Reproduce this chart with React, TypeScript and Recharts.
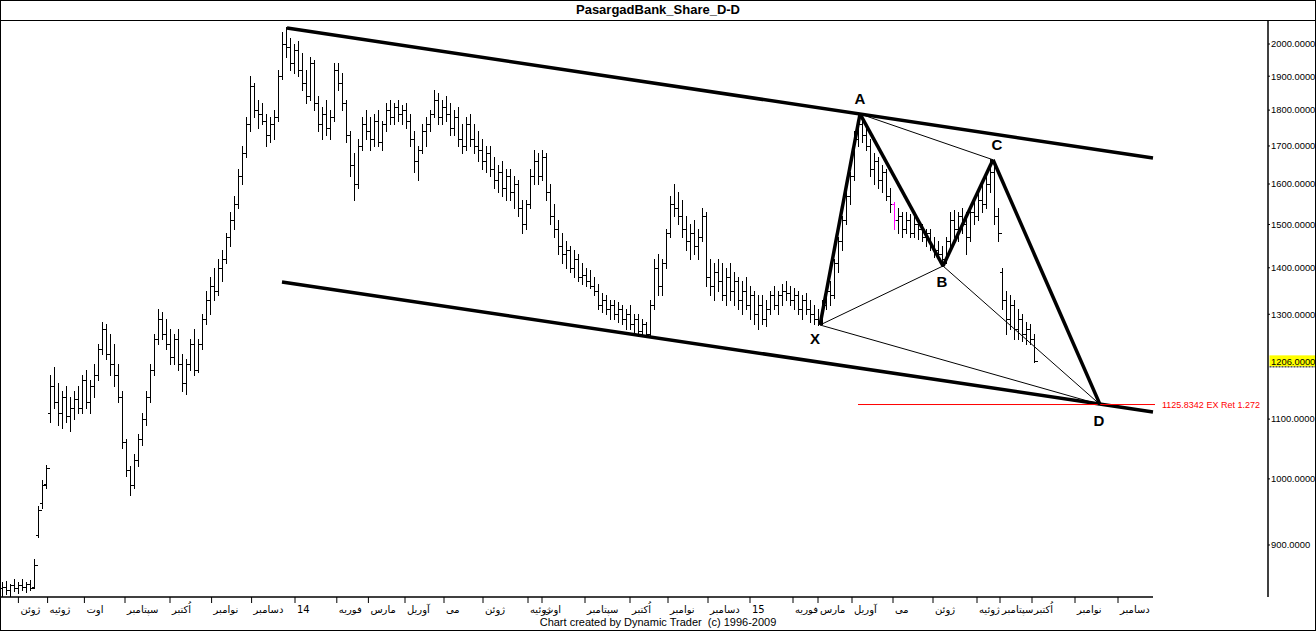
import React from "react";
import { ComposedChart, Bar, XAxis, YAxis, ReferenceLine, ReferenceDot } from "recharts";

// [open, high, low, close] per trading bar
type Ohlc = [number, number, number, number];

const barsJun2013: Ohlc[] = [
  [840, 848, 828, 842], [842, 850, 832, 838], [838, 846, 830, 844], [844, 852, 836, 840],
  [840, 848, 834, 845], [845, 852, 838, 842], [842, 848, 835, 846], [846, 851, 838, 840],
  [842, 880, 840, 872], [915, 958, 912, 952], [962, 998, 955, 990], [992, 1022, 985, 1018],
];

const barsJulOct2013: Ohlc[] = [
  [1110, 1180, 1095, 1160], [1160, 1195, 1120, 1130], [1130, 1165, 1090, 1110], [1110, 1150, 1085, 1140],
  [1140, 1160, 1095, 1105], [1105, 1140, 1080, 1120], [1120, 1150, 1100, 1135], [1135, 1160, 1110, 1120],
  [1120, 1180, 1110, 1170], [1170, 1190, 1120, 1130], [1130, 1170, 1110, 1160], [1160, 1200, 1140, 1180],
  [1180, 1240, 1170, 1230], [1230, 1285, 1220, 1270], [1270, 1280, 1210, 1220], [1220, 1260, 1180, 1200],
  [1200, 1240, 1160, 1180], [1180, 1200, 1130, 1140], [1140, 1150, 1050, 1060], [1060, 1065, 1005, 1015],
  [1015, 1020, 975, 990], [990, 1040, 985, 1030], [1030, 1075, 1020, 1065], [1065, 1110, 1055, 1100],
  [1100, 1150, 1090, 1140], [1140, 1200, 1130, 1190], [1190, 1260, 1180, 1250], [1250, 1310, 1240, 1290],
  [1290, 1305, 1250, 1260], [1260, 1290, 1230, 1240], [1240, 1270, 1200, 1215], [1215, 1260, 1200, 1250],
  [1250, 1270, 1190, 1200], [1200, 1220, 1150, 1165], [1165, 1210, 1145, 1200], [1200, 1250, 1190, 1240],
  [1240, 1270, 1180, 1190], [1190, 1250, 1185, 1240],
];

const barsNov2013Feb2014: Ohlc[] = [
  [1240, 1300, 1230, 1290], [1290, 1350, 1280, 1330], [1330, 1380, 1300, 1360], [1360, 1400, 1330, 1350],
  [1350, 1420, 1340, 1400], [1400, 1440, 1370, 1420], [1420, 1480, 1410, 1470], [1470, 1530, 1450, 1510],
  [1510, 1570, 1490, 1550], [1550, 1640, 1540, 1620], [1620, 1700, 1600, 1680], [1680, 1780, 1670, 1760],
  [1760, 1900, 1740, 1870], [1870, 1880, 1780, 1800], [1800, 1830, 1750, 1790], [1790, 1820, 1760, 1770],
  [1770, 1790, 1700, 1730], [1730, 1780, 1710, 1760], [1760, 1800, 1720, 1780], [1780, 1920, 1770, 1900],
  [1900, 2040, 1890, 2000], [2000, 2055, 1960, 1990], [1990, 2020, 1920, 1940], [1940, 2000, 1910, 1980],
  [1980, 2010, 1900, 1920], [1920, 1970, 1860, 1880], [1880, 1920, 1820, 1840], [1840, 1960, 1830, 1940],
  [1940, 1950, 1800, 1820], [1820, 1840, 1740, 1760], [1760, 1810, 1720, 1790], [1790, 1830, 1730, 1750],
  [1750, 1800, 1720, 1780], [1780, 1940, 1770, 1920], [1920, 1940, 1860, 1880], [1880, 1910, 1800, 1820],
  [1820, 1830, 1710, 1730], [1730, 1740, 1620, 1650], [1650, 1680, 1560, 1600], [1600, 1720, 1590, 1700],
];

const barsMar2014Jun2014: Ohlc[] = [
  [1700, 1780, 1690, 1760], [1760, 1800, 1720, 1740], [1740, 1780, 1690, 1720], [1720, 1790, 1700, 1770],
  [1770, 1800, 1700, 1710], [1710, 1770, 1690, 1760], [1760, 1820, 1740, 1800], [1800, 1830, 1760, 1780],
  [1780, 1820, 1760, 1810], [1810, 1830, 1770, 1790], [1790, 1815, 1760, 1800], [1800, 1820, 1750, 1770],
  [1770, 1790, 1700, 1720], [1720, 1740, 1630, 1660], [1660, 1700, 1610, 1690], [1690, 1760, 1680, 1740],
  [1740, 1780, 1700, 1760], [1760, 1800, 1740, 1790], [1790, 1860, 1780, 1830], [1830, 1850, 1760, 1780],
  [1780, 1830, 1760, 1810], [1810, 1840, 1770, 1790], [1790, 1820, 1730, 1750], [1750, 1800, 1730, 1780],
  [1780, 1810, 1700, 1720], [1720, 1760, 1680, 1700], [1700, 1780, 1690, 1760], [1760, 1790, 1700, 1720],
  [1720, 1760, 1680, 1700], [1700, 1740, 1660, 1690], [1690, 1720, 1640, 1660], [1660, 1700, 1630, 1680],
  [1680, 1700, 1620, 1640], [1640, 1670, 1590, 1610], [1610, 1650, 1580, 1630], [1630, 1660, 1570, 1590],
  [1590, 1640, 1560, 1620], [1620, 1640, 1560, 1580], [1580, 1620, 1540, 1600], [1600, 1610, 1520, 1540],
  [1540, 1560, 1480, 1500], [1500, 1560, 1490, 1550],
];

const barsJul2014Dec2014: Ohlc[] = [
  [1550, 1640, 1540, 1620], [1620, 1690, 1600, 1660], [1660, 1680, 1600, 1620], [1620, 1690, 1610, 1670],
  [1670, 1680, 1560, 1580], [1580, 1600, 1500, 1520], [1520, 1550, 1470, 1490], [1490, 1510, 1430, 1450],
  [1450, 1480, 1410, 1430], [1430, 1460, 1400, 1440], [1440, 1450, 1390, 1400], [1400, 1440, 1380, 1420],
  [1420, 1430, 1370, 1380], [1380, 1410, 1365, 1385], [1385, 1400, 1360, 1370], [1370, 1395, 1355, 1360],
  [1360, 1380, 1340, 1350], [1350, 1365, 1310, 1320], [1320, 1345, 1305, 1330], [1330, 1340, 1300, 1310],
  [1310, 1330, 1290, 1320], [1320, 1330, 1290, 1300], [1300, 1325, 1285, 1310], [1310, 1320, 1280, 1290],
  [1290, 1310, 1270, 1300], [1300, 1320, 1270, 1280], [1280, 1300, 1260, 1290], [1290, 1300, 1255, 1265],
  [1265, 1290, 1260, 1280], [1280, 1285, 1255, 1260], [1260, 1330, 1255, 1320], [1320, 1420, 1310, 1400],
  [1400, 1430, 1340, 1360], [1360, 1420, 1340, 1410], [1410, 1490, 1400, 1480], [1480, 1570, 1470, 1550],
  [1550, 1600, 1520, 1540], [1540, 1580, 1500, 1520], [1520, 1560, 1470, 1490], [1490, 1520, 1440, 1460],
  [1460, 1500, 1420, 1480], [1480, 1510, 1430, 1450], [1450, 1490, 1420, 1470], [1470, 1540, 1460, 1520],
];

const barsJan2015Mar2015: Ohlc[] = [
  [1520, 1530, 1360, 1380], [1380, 1420, 1340, 1360], [1360, 1410, 1330, 1390], [1390, 1420, 1350, 1370],
  [1370, 1410, 1330, 1340], [1340, 1400, 1320, 1380], [1380, 1410, 1330, 1350], [1350, 1390, 1320, 1370],
  [1370, 1380, 1310, 1330], [1330, 1370, 1300, 1350], [1350, 1380, 1310, 1320], [1320, 1360, 1290, 1340],
  [1340, 1350, 1280, 1300], [1300, 1340, 1270, 1320], [1320, 1340, 1280, 1290], [1290, 1330, 1275, 1310],
  [1310, 1350, 1300, 1340], [1340, 1360, 1310, 1320], [1320, 1350, 1300, 1340], [1340, 1365, 1320, 1350],
  [1350, 1370, 1330, 1345], [1345, 1360, 1320, 1330], [1330, 1355, 1310, 1340], [1340, 1350, 1300, 1310],
  [1310, 1340, 1290, 1330], [1330, 1345, 1300, 1310], [1310, 1330, 1285, 1300], [1300, 1320, 1280, 1290],
  [1290, 1310, 1278, 1285],
];

const barsApr2015Oct2015: Ohlc[] = [
  [1285, 1330, 1280, 1320], [1320, 1360, 1310, 1350], [1350, 1370, 1320, 1340], [1340, 1420, 1335, 1410],
  [1410, 1470, 1390, 1460], [1460, 1520, 1440, 1510], [1510, 1580, 1500, 1570], [1570, 1630, 1550, 1620],
  [1620, 1740, 1610, 1720], [1720, 1790, 1700, 1760], [1760, 1775, 1710, 1730], [1730, 1760, 1690, 1700],
  [1700, 1720, 1620, 1640], [1640, 1680, 1600, 1660], [1660, 1670, 1590, 1610], [1610, 1650, 1580, 1630],
  [1630, 1640, 1560, 1570], [1570, 1590, 1530, 1550], [1550, 1555, 1490, 1510], [1510, 1540, 1480, 1520],
  [1520, 1530, 1470, 1490], [1490, 1530, 1480, 1510], [1510, 1525, 1470, 1480], [1480, 1520, 1470, 1500],
  [1500, 1510, 1465, 1490], [1490, 1500, 1460, 1470], [1470, 1490, 1450, 1480], [1480, 1490, 1440, 1450],
  [1450, 1470, 1425, 1440], [1440, 1460, 1420, 1430], [1430, 1450, 1405, 1420], [1420, 1470, 1410, 1460],
  [1460, 1530, 1450, 1510], [1510, 1535, 1470, 1490], [1490, 1530, 1460, 1520], [1520, 1540, 1480, 1500],
  [1500, 1530, 1430, 1470], [1470, 1540, 1460, 1530], [1530, 1560, 1500, 1520], [1520, 1580, 1510, 1560],
  [1560, 1600, 1530, 1550], [1550, 1620, 1540, 1600], [1600, 1665, 1580, 1630], [1630, 1650, 1500, 1520],
  [1520, 1540, 1460, 1480], [1390, 1400, 1310, 1330], [1330, 1350, 1260, 1290], [1290, 1340, 1270, 1320],
  [1320, 1330, 1250, 1270], [1270, 1310, 1250, 1290], [1290, 1300, 1245, 1260], [1260, 1285, 1240, 1270],
  [1270, 1280, 1240, 1250], [1250, 1260, 1205, 1206],
];

const PINK_BAR = 223;

// month ticks (bar index) and their labels
const MONTH_TICKS = [
  4.1, 11.4, 20.6, 30.75, 42, 52.4, 62.4, 73.25, 83.7, 91.6, 100.75, 110.5,
  120.25, 131.5, 135, 145.75, 157, 166.5, 176.5, 187, 197.75, 204, 212.5,
  222.75, 232.75, 243.75, 249.5, 257.5, 268.25, 279,
];
const MONTH_LABELS = [
  "ژوئن", "ژوئیه", "اوت", "سپتامبر", "اُکتبر", "نوامبر", "دسامبر", "14", "فوریه", "مارس", "آوریل", "می",
  "ژوئن", "ژوئیه", "اوت", "سپتامبر", "اُکتبر", "نوامبر", "دسامبر", "15", "فوریه", "مارس", "آوریل",
  "می", "ژوئن", "ژوئیه", "سپتامبر", "اُکتبر", "نوامبر", "دسامبر",
];

// 1200 is covered by the last-price marker, as in the original
const PRICE_TICKS = [900, 1000, 1100, 1300, 1400, 1500, 1600, 1700, 1800, 1900, 2000];
const PRICE_DOMAIN = [828.4, 2074.7];
const X_DOMAIN = [-0.5, 316.5];

// trend channel
const UPPER_CHANNEL = [{ x: 71.25, y: 2051.6 }, { x: 287.75, y: 1667.7 }];
const LOWER_CHANNEL = [{ x: 70, y: 1368.6 }, { x: 287.75, y: 1112.6 }];

// harmonic pattern points
const PATTERN_NAMES = ["X", "A", "B", "C", "D"];
const PATTERN_IDX = [204.5, 214.5, 235.25, 247.75, 274.5];
const PATTERN_PRICE = [1278, 1789, 1404, 1663, 1125.83];

const EX_RET_PRICE = 1125.8342;
const EX_RET_RANGE = [214, 288.25];
const LAST_PRICE = 1206;

const allBars = [
  ...barsJun2013,
  ...barsJulOct2013,
  ...barsNov2013Feb2014,
  ...barsMar2014Jun2014,
  ...barsJul2014Dec2014,
  ...barsJan2015Mar2015,
  ...barsApr2015Oct2015,
];
const data = allBars.map(([open, high, low, close], i) => ({ i, open, high, low, close, range: [low, high] }));

const pt = (k: number) => ({ x: PATTERN_IDX[k], y: PATTERN_PRICE[k] });

const OhlcBar = (props: any) => {
  const { x, y, width, height, payload } = props;
  if (x == null || y == null || !payload) return null;
  const cx = Math.round(x + width / 2) + 0.5;
  const top = Math.min(y, y + height);
  const bot = Math.max(y, y + height);
  const lh = Math.log(payload.high);
  const span = lh - Math.log(payload.low) || 1;
  const at = (v: number) => Math.round(top + ((bot - top) * (lh - Math.log(v))) / span) + 0.5;
  const color = payload.i === PINK_BAR ? "#ff00ff" : "#000";
  return (
    <g stroke={color} shapeRendering="crispEdges">
      <line x1={cx} x2={cx} y1={Math.round(top)} y2={Math.round(bot) + 1} strokeWidth={1.3} />
      <line x1={cx - 3} x2={cx} y1={at(payload.open)} y2={at(payload.open)} strokeWidth={1} />
      <line x1={cx} x2={cx + 3} y1={at(payload.close)} y2={at(payload.close)} strokeWidth={1} />
    </g>
  );
};

const MonthTick = (props: any) => {
  const { x, y, payload } = props;
  const k = MONTH_TICKS.indexOf(payload.value);
  return (
    <text x={x + 2} y={y} dy="0.75em" textAnchor="start" fontSize={10} fontFamily="DejaVu Sans" fill="#000">
      {MONTH_LABELS[k]}
    </text>
  );
};

const letter = (name: string, dx: number, dy: number) => (p: any) => (
  <text
    x={p.cx + dx}
    y={p.cy + dy}
    textAnchor="middle"
    dominantBaseline="central"
    fontSize={15}
    fontWeight="bold"
    fontFamily="Liberation Sans"
    fill="#000"
  >
    {name}
  </text>
);

const LETTER_OFFSETS: [number, number][] = [[-5, 14], [0, -15], [-1, 16], [4, -15], [-1, 16]];

export default function App() {
  return (
    <div style={{ position: "absolute", left: 0, top: 0, width: 1316, height: 631, background: "#fff", overflow: "hidden" }}>
      <ComposedChart width={1316} height={631} data={data} margin={{ top: 21, right: 0, bottom: 0, left: 0 }}>
        <XAxis
          dataKey="i"
          type="number"
          domain={X_DOMAIN}
          allowDataOverflow
          ticks={MONTH_TICKS}
          interval={0}
          height={34}
          axisLine={false}
          tickLine={{ stroke: "#000" }}
          tickSize={6}
          tick={<MonthTick />}
        />
        <YAxis
          orientation="right"
          scale="log"
          domain={PRICE_DOMAIN}
          allowDataOverflow
          ticks={PRICE_TICKS}
          interval={0}
          tickFormatter={(v: number) => v.toFixed(4)}
          width={48}
          axisLine={{ stroke: "#000", strokeWidth: 1.5 }}
          tickLine={{ stroke: "#000" }}
          tickSize={2}
          tickMargin={1}
          tick={{ fontSize: 9.4, fill: "#000", fontFamily: "Liberation Sans", textAnchor: "start" }}
        />
        <Bar dataKey="range" barSize={4} shape={<OhlcBar />} isAnimationActive={false} />

        {/* bottom axis line ends where the projection ends */}
        <ReferenceLine segment={[{ x: X_DOMAIN[0], y: PRICE_DOMAIN[0] }, { x: 287.75, y: PRICE_DOMAIN[0] }]} stroke="#000" strokeWidth={1.5} ifOverflow="visible" />

        <ReferenceLine segment={UPPER_CHANNEL} stroke="#000" strokeWidth={3.5} ifOverflow="visible" />
        <ReferenceLine segment={LOWER_CHANNEL} stroke="#000" strokeWidth={3.5} ifOverflow="visible" />

        <ReferenceLine
          segment={[{ x: EX_RET_RANGE[0], y: EX_RET_PRICE }, { x: EX_RET_RANGE[1], y: EX_RET_PRICE }]}
          stroke="#ff0000"
          strokeWidth={1}
          ifOverflow="visible"
        />

        {/* thin legs */}
        <ReferenceLine segment={[pt(0), pt(2)]} stroke="#000" strokeWidth={1} ifOverflow="visible" />
        <ReferenceLine segment={[pt(1), pt(3)]} stroke="#000" strokeWidth={1} ifOverflow="visible" />
        <ReferenceLine segment={[pt(0), pt(4)]} stroke="#000" strokeWidth={1} ifOverflow="visible" />
        <ReferenceLine segment={[pt(2), pt(4)]} stroke="#000" strokeWidth={1} ifOverflow="visible" />
        {/* thick legs */}
        <ReferenceLine segment={[pt(0), pt(1)]} stroke="#000" strokeWidth={3.5} ifOverflow="visible" />
        <ReferenceLine segment={[pt(1), pt(2)]} stroke="#000" strokeWidth={3.5} ifOverflow="visible" />
        <ReferenceLine segment={[pt(2), pt(3)]} stroke="#000" strokeWidth={3.5} ifOverflow="visible" />
        <ReferenceLine segment={[pt(3), pt(4)]} stroke="#000" strokeWidth={3.5} ifOverflow="visible" />

        {PATTERN_NAMES.map((name, k) => (
          <ReferenceDot
            key={name}
            x={PATTERN_IDX[k]}
            y={PATTERN_PRICE[k]}
            r={0}
            ifOverflow="visible"
            shape={letter(name, LETTER_OFFSETS[k][0], LETTER_OFFSETS[k][1])}
          />
        ))}

        <ReferenceDot
          x={EX_RET_RANGE[1]}
          y={EX_RET_PRICE}
          r={0}
          ifOverflow="visible"
          shape={(p: any) => (
            <text x={p.cx + 7} y={p.cy} dominantBaseline="central" fontSize={9} fontFamily="Liberation Sans" fill="#ff0000">
              {`${EX_RET_PRICE.toFixed(4)} EX Ret 1.272`}
            </text>
          )}
        />

        <ReferenceDot
          x={X_DOMAIN[1]}
          y={LAST_PRICE}
          r={0}
          ifOverflow="visible"
          shape={(p: any) => (
            <g>
              <rect x={p.cx + 1.5} y={p.cy - 6} width={47} height={11} fill="#ffff00" />
              <line x1={p.cx + 1.5} x2={p.cx + 48} y1={p.cy + 5.5} y2={p.cy + 5.5} stroke="#000" strokeDasharray="2 1" />
              <text x={p.cx + 3} y={p.cy} dominantBaseline="central" fontSize={9.4} fontFamily="Liberation Sans" fill="#000">
                {LAST_PRICE.toFixed(4)}
              </text>
            </g>
          )}
        />
      </ComposedChart>

      <div style={{ position: "absolute", left: 0, top: 2, width: 1316, textAlign: "center", fontFamily: "Liberation Sans", fontWeight: "bold", fontSize: 13, lineHeight: "16px" }}>
        PasargadBank_Share_D-D
      </div>
      <div style={{ position: "absolute", left: 0, top: 20, width: 1316, height: 0, borderTop: "1.5px solid #000" }} />
      <div style={{ position: "absolute", left: 0, top: 615, width: 1316, textAlign: "center", fontFamily: "Liberation Sans", fontSize: 11, lineHeight: "14px", whiteSpace: "pre" }}>
        {"Chart created by Dynamic Trader  (c) 1996-2009"}
      </div>
      <div style={{ position: "absolute", left: 0, top: 0, width: 1316, height: 631, border: "1px solid #000", boxSizing: "border-box", pointerEvents: "none" }} />
    </div>
  );
}
